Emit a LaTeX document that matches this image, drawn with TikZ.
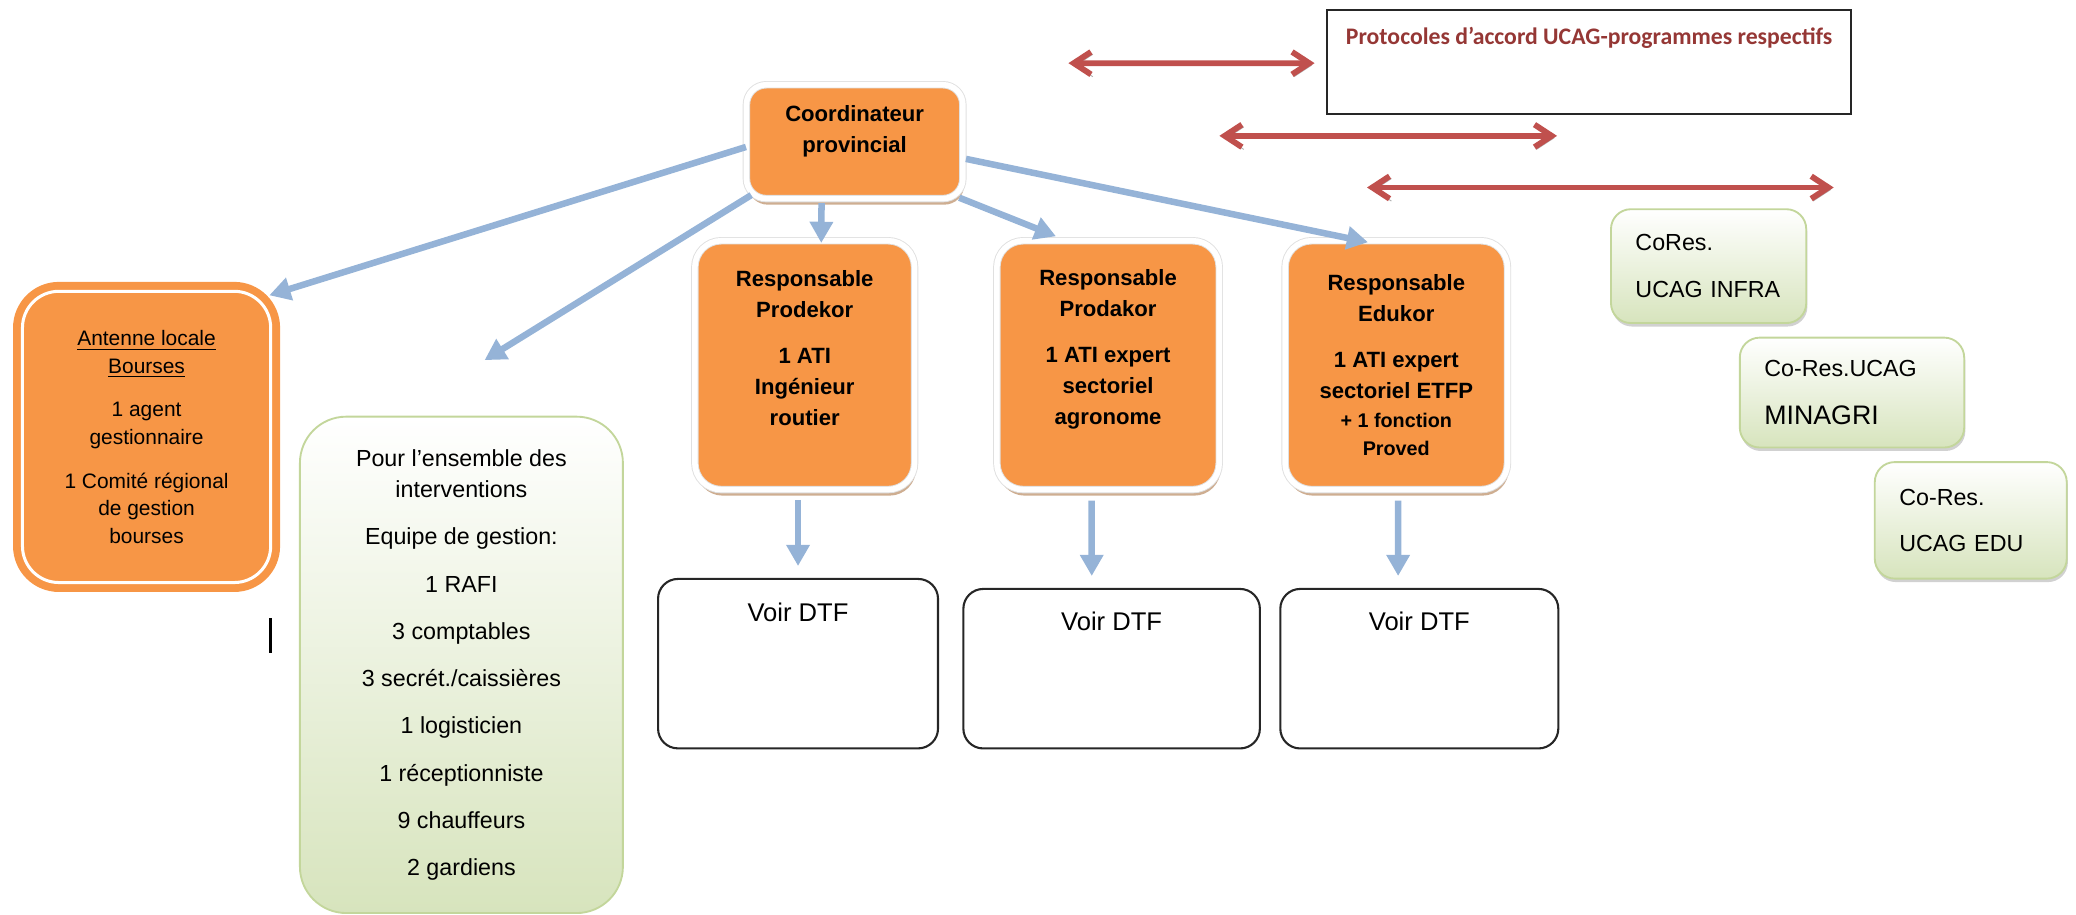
\documentclass[tikz,border=0pt]{standalone}
\usepackage{fontspec}
\setmainfont{Liberation Sans}
\newfontfamily\protofont{Carlito}
\usetikzlibrary{arrows.meta, positioning, shadows, calc}

\definecolor{orangebox}{HTML}{F79646}
\definecolor{orangeshadow}{HTML}{B98B63}
\definecolor{bluearrow}{HTML}{95B3D7}
\definecolor{redarrow}{HTML}{C0504D}
\definecolor{protored}{HTML}{953735}
\definecolor{greenfill}{HTML}{D7E4BD}
\definecolor{greenline}{HTML}{C3D69B}

\begin{document}
\begin{tikzpicture}[x=0.02cm, y=-0.02cm,
  chief/.style={rectangle, rounded corners=0.4cm, fill=orangebox,
    draw=black!12, double=white, double distance=2.4pt, line width=0.4pt,
    inner sep=0pt, align=center, font=\bfseries\fontsize{9.5}{13.3}\selectfont,
    drop shadow={shadow xshift=0.6pt, shadow yshift=-2.6pt, fill=orangeshadow, opacity=0.7}},
  antenna/.style={rectangle, rounded corners=0.55cm, fill=orangebox,
    draw=orangebox, double=white, double distance=1.3pt, line width=3.4pt,
    inner sep=0pt, align=center, font=\fontsize{9}{11.8}\selectfont},
  team/.style={rectangle, rounded corners=0.7cm, draw=greenline, line width=0.8pt,
    top color=white, bottom color=greenfill, inner sep=0pt, align=center,
    font=\fontsize{10}{13.5}\selectfont},
  cores/.style={rectangle, rounded corners=0.3cm, draw=greenline, line width=0.8pt,
    top color=white, bottom color=greenfill, inner xsep=0.37cm, inner ysep=0pt,
    align=left, font=\fontsize{10}{12}\selectfont,
    drop shadow={shadow xshift=0.5pt, shadow yshift=-1.5pt, fill=black!30, opacity=0.6}},
  dtf/.style={rectangle, rounded corners=0.3cm, draw=black!85, line width=0.9pt,
    inner sep=0pt, font=\fontsize{11}{13}\selectfont},
  link/.style={bluearrow, line width=2.8pt, -{Triangle[length=0.32cm, width=0.34cm]}},
  accord/.style={redarrow, line width=2.5pt, line join=miter,
    {Straight Barb[length=0.26cm, width=0.34cm]}-{Straight Barb[length=0.26cm, width=0.34cm]},
    preaction={draw=black!30, transform canvas={xshift=0.8pt, yshift=-1pt}}}]

  \useasboundingbox (0,0) rectangle (1568,691);

  \node[draw=black!85, line width=0.8pt, inner sep=0pt, minimum width=7.91cm,
    text height=0.52cm, text depth=1.05cm, text=protored,
    font=\protofont\bfseries\fontsize{10.2}{12}\selectfont] (proto) at (1200.3,46.55)
    {Protocoles d’accord UCAG-programmes respectifs};

  \node[chief, rounded corners=0.3cm, minimum width=3.27cm, minimum height=1.72cm] (coord)
    at (645.5,107) {Coordinateur\\provincial\\[-2pt]\mbox{}};

  \node[antenna, minimum width=3.75cm, minimum height=4.4cm] (antenne) at (110.7,330)
    {\underline{Antenne locale}\\\underline{Bourses}\\[7pt]1 agent\\gestionnaire\\[7pt]1 Comité régional\\de gestion\\bourses};

  \node[team, minimum width=4.88cm, minimum height=7.5cm] (equipe) at (348.5,502.15)
    {Pour l’ensemble des\\interventions\\[6.8pt]Equipe de gestion:\\[6.8pt]1 RAFI\\[6.8pt]3 comptables\\[6.8pt]3 secrét./caissières\\[6.8pt]1 logisticien\\[6.8pt]1 réceptionniste\\[6.8pt]9 chauffeurs\\[6.8pt]2 gardiens};

  \node[chief, minimum width=3.32cm, minimum height=3.76cm] (prodekor) at (607.8,275.8)
    {Responsable\\Prodekor\\[6.5pt]1 ATI\\Ingénieur\\routier\\[1.5pt]\mbox{}};
  \node[chief, minimum width=3.36cm, minimum height=3.76cm] (prodakor) at (836.9,275.8)
    {Responsable\\Prodakor\\[6.5pt]1 ATI expert\\sectoriel\\agronome\\[2pt]\mbox{}};
  \node[chief, minimum width=3.36cm, minimum height=3.76cm] (edukor) at (1054.6,275.8)
    {Responsable\\Edukor\\[6.5pt]1 ATI expert\\sectoriel ETFP\\[-1pt]{\fontsize{8.5}{12}\selectfont + 1 fonction}\\[-1pt]{\fontsize{8.5}{12}\selectfont Proved}};

  \node[dtf, minimum width=4.23cm, text height=0.64cm, text depth=1.92cm] (voir1) at (602.75,501.25) {Voir DTF};
  \node[dtf, minimum width=4.48cm, text height=0.63cm, text depth=1.78cm] (voir2) at (839.6,505.05) {Voir DTF};
  \node[dtf, minimum width=4.2cm, text height=0.63cm, text depth=1.78cm] (voir3) at (1072,505.05) {Voir DTF};

  \node[cores, text width=2.21cm, minimum height=1.72cm] (infra) at (1290.5,201)
    {CoRes.\\[8.4pt]UCAG INFRA};
  \node[cores, text width=2.65cm, minimum height=1.66cm] (minagri) at (1398.8,296.5)
    {Co-Res.UCAG\\[9pt]{\fontsize{11.5}{12}\selectfont MINAGRI}};
  \node[cores, text width=2.16cm, minimum height=1.76cm] (edu) at (1488.5,393)
    {Co-Res.\\[7.5pt]UCAG EDU};

  \coordinate (equipetip) at (366,272);
  \draw[link] ($(coord.west)+(0,4)$) -- ($(antenne.north east)+(-4,6)$);
  \draw[link] ($(coord.south west)+(4,-3)$) -- (equipetip);
  \draw[link] ($(coord.south)+(-25,3)$) -- ($(prodekor.north)+(12.5,2)$);
  \draw[link] ($(coord.south east)+(-3,-1)$) -- ($(prodakor.north west)+(45,-3)$);
  \draw[link] ($(coord.east)+(2,13)$) -- ($(edukor.north west)+(63,1.5)$);

  \draw[link] ($(prodekor.south -| voir1.north)+(0,7.5)$) -- ($(voir1.north)+(0,-9)$);
  \draw[link] ($(prodakor.south)+(-12.4,8)$) -- ($(voir2.north)+(-15,-9)$);
  \draw[link] ($(edukor.south)+(1.4,8)$) -- ($(voir3.north)+(-16,-9)$);

  \coordinate (r1) at (807,47.7);
  \coordinate (r2a) at (921,102.6);
  \coordinate (r2b) at (1176,102.6);
  \coordinate (r3a) at (1032.5,141.6);
  \coordinate (r3b) at (1385,141.6);
  \draw[accord] (r1) -- ($(proto.west)+(-9,1.15)$);
  \draw[accord] (r2a) -- (r2b);
  \draw[accord] (r3a) -- (r3b);

  \draw[line width=1.1pt] (204.5,467) -- (204.5,493);
\end{tikzpicture}
\end{document}
